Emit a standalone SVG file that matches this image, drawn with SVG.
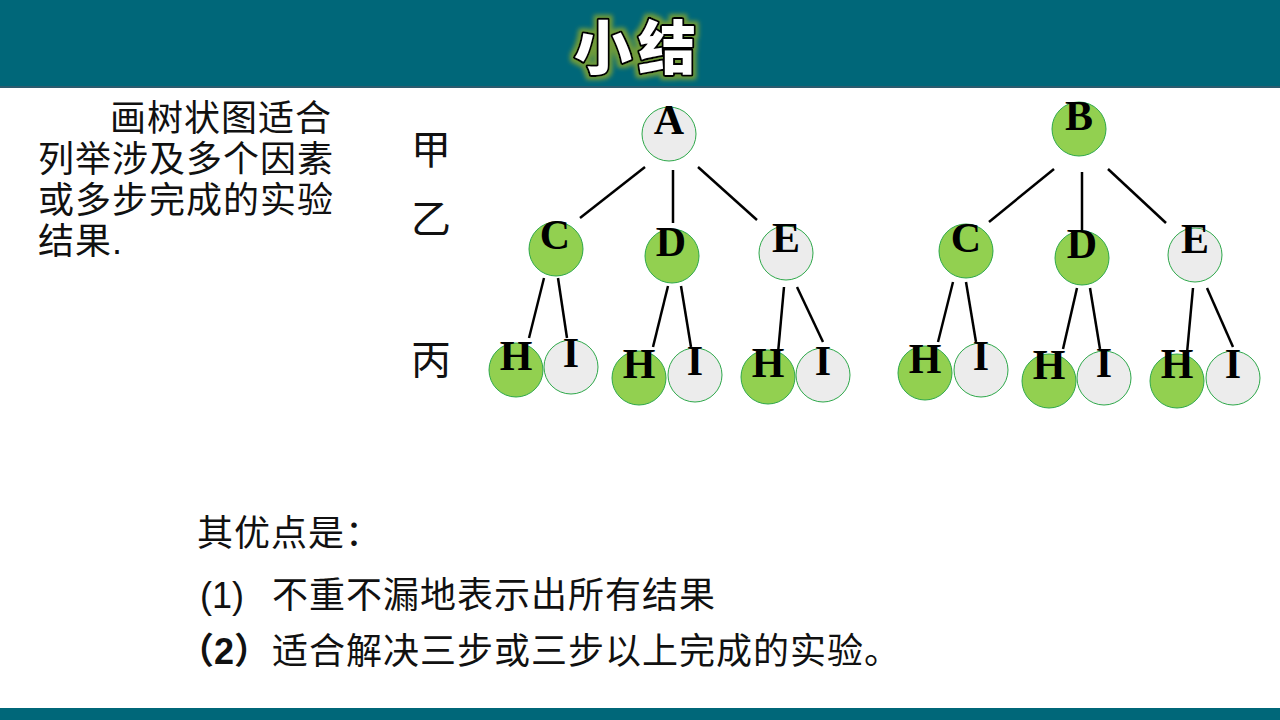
<svg xmlns="http://www.w3.org/2000/svg" width="1280" height="720" viewBox="0 0 1280 720">
<defs>
<style>
.band{fill:#006779}
.cjk{font-family:"Liberation Sans","Noto Sans CJK SC",sans-serif;fill:#111}
.body{font-size:36px}
.lbl{font-family:"Liberation Serif","Times New Roman",serif;font-weight:bold;font-size:42px;text-anchor:middle;fill:#000}
.g{fill:#92d050;stroke:#2ea84a;stroke-width:1}
.w{fill:#ececec;stroke:#2ea84a;stroke-width:1}
.edge{stroke:#000;stroke-width:2.5;fill:none}
</style>
<filter id="glow" x="-20%" y="-20%" width="140%" height="140%">
<feMorphology in="SourceAlpha" operator="dilate" radius="3" result="d"/>
<feGaussianBlur in="d" stdDeviation="2" result="b"/>
<feFlood flood-color="#6f9a3a"/>
<feComposite in2="b" operator="in" result="gl"/>
<feMerge><feMergeNode in="gl"/><feMergeNode in="SourceGraphic"/></feMerge>
</filter>
</defs>
<rect x="0" y="0" width="1280" height="720" fill="#fff"/>
<g id="header">
<rect class="band" x="0" y="0" width="1280" height="87"/>
<rect x="0" y="86" width="1280" height="2" fill="#2c5b6e"/>
<text x="638" y="69" text-anchor="middle" font-family="'Noto Sans CJK SC',sans-serif" font-weight="900" font-size="58" letter-spacing="6" fill="#fff" stroke="#000" stroke-width="4" paint-order="stroke" stroke-linejoin="round" filter="url(#glow)">小结</text>
</g>
<rect class="band" x="0" y="708" width="1280" height="12"/>

<g id="intro" class="cjk body">
<text x="110" y="131" letter-spacing="1">画树状图适合</text>
<text x="38" y="172" letter-spacing="1">列举涉及多个因素</text>
<text x="38" y="213" letter-spacing="1">或多步完成的实验</text>
<text x="38" y="254" letter-spacing="1">结果.</text>
</g>

<g id="levels" class="cjk" font-size="40">
<text x="411" y="164">甲</text>
<text x="411" y="233">乙</text>
<text x="411" y="374">丙</text>
</g>

<g id="connectors" class="edge">
<line x1="645" y1="167" x2="580" y2="218"/>
<line x1="673" y1="170" x2="673" y2="223"/>
<line x1="698" y1="167" x2="757" y2="220"/>
<line x1="544" y1="278" x2="529" y2="338"/>
<line x1="558" y1="278" x2="567" y2="338"/>
<line x1="668" y1="286" x2="653" y2="347"/>
<line x1="681" y1="286" x2="691" y2="347"/>
<line x1="784" y1="287" x2="778" y2="353"/>
<line x1="797" y1="287" x2="823" y2="342"/>
<line x1="1054" y1="169" x2="989" y2="222"/>
<line x1="1082" y1="172" x2="1082" y2="233"/>
<line x1="1108" y1="169" x2="1166" y2="223"/>
<line x1="953" y1="282" x2="938" y2="342"/>
<line x1="966" y1="282" x2="976" y2="342"/>
<line x1="1077" y1="288" x2="1063" y2="349"/>
<line x1="1090" y1="288" x2="1100" y2="349"/>
<line x1="1193" y1="288" x2="1187" y2="353"/>
<line x1="1207" y1="288" x2="1233" y2="347"/>
</g>

<g id="A"><circle class="w" cx="669" cy="134" r="27"/><text class="lbl" x="669" y="134">A</text></g>
<g id="C1"><circle class="g" cx="556" cy="249" r="27"/><text class="lbl" x="555" y="249">C</text></g>
<g id="D1"><circle class="g" cx="672" cy="256" r="27"/><text class="lbl" x="671" y="256">D</text></g>
<g id="E1"><circle class="w" cx="786" cy="253" r="27"/><text class="lbl" x="786" y="252">E</text></g>
<g id="H1"><circle class="g" cx="516" cy="370" r="27"/><text class="lbl" x="516" y="370">H</text></g>
<g id="I1"><circle class="w" cx="571" cy="367" r="27"/><text class="lbl" x="571" y="367">I</text></g>
<g id="H2"><circle class="g" cx="639" cy="378" r="27"/><text class="lbl" x="639" y="378">H</text></g>
<g id="I2"><circle class="w" cx="695" cy="375" r="27"/><text class="lbl" x="695" y="375">I</text></g>
<g id="H3"><circle class="g" cx="768" cy="377" r="27"/><text class="lbl" x="768" y="377">H</text></g>
<g id="I3"><circle class="w" cx="823" cy="375" r="27"/><text class="lbl" x="823" y="375">I</text></g>

<g id="B"><circle class="g" cx="1079" cy="129" r="27"/><text class="lbl" x="1079" y="130">B</text></g>
<g id="C2"><circle class="g" cx="966" cy="251" r="27"/><text class="lbl" x="966" y="252">C</text></g>
<g id="D2"><circle class="g" cx="1082" cy="258" r="27"/><text class="lbl" x="1082" y="258">D</text></g>
<g id="E2"><circle class="w" cx="1195" cy="255" r="27"/><text class="lbl" x="1195" y="253">E</text></g>
<g id="H4"><circle class="g" cx="925" cy="373" r="27"/><text class="lbl" x="925" y="373">H</text></g>
<g id="I4"><circle class="w" cx="981" cy="370" r="27"/><text class="lbl" x="981" y="370">I</text></g>
<g id="H5"><circle class="g" cx="1049" cy="381" r="27"/><text class="lbl" x="1049" y="379">H</text></g>
<g id="I5"><circle class="w" cx="1104" cy="378" r="27"/><text class="lbl" x="1104" y="377">I</text></g>
<g id="H6"><circle class="g" cx="1177" cy="381" r="27"/><text class="lbl" x="1177" y="378">H</text></g>
<g id="I6"><circle class="w" cx="1233" cy="378" r="27"/><text class="lbl" x="1233" y="378">I</text></g>

<g id="advantages" class="cjk body">
<text x="197" y="546" letter-spacing="1">其优点是：</text>
<text x="200" y="608">(1)</text>
<text x="272" y="608" letter-spacing="1">不重不漏地表示出所有结果</text>
<text x="178" y="664" font-weight="bold">（2）</text>
<text x="272" y="664" letter-spacing="1">适合解决三步或三步以上完成的实验。</text>
</g>
</svg>
